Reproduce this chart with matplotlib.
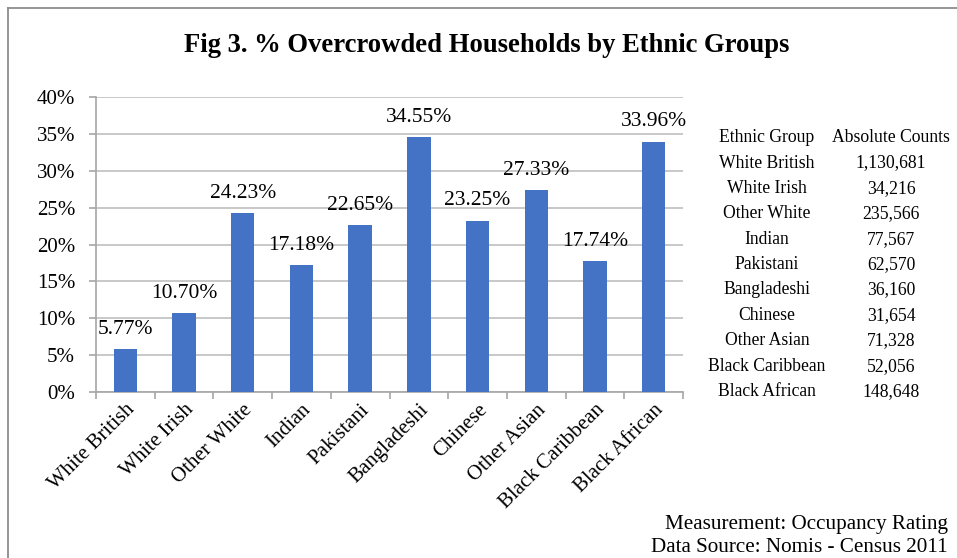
import matplotlib
matplotlib.use("Agg")
import matplotlib.pyplot as plt
from matplotlib.lines import Line2D
from matplotlib.ticker import PercentFormatter

plt.rcParams['font.family'] = ['Liberation Serif', 'DejaVu Serif']

groups = ["White British", "White Irish", "Other White", "Indian", "Pakistani",
          "Bangladeshi", "Chinese", "Other Asian", "Black Caribbean", "Black African"]
pct_overcrowded = [5.77, 10.70, 24.23, 17.18, 22.65, 34.55, 23.25, 27.33, 17.74, 33.96]
absolute_counts = ["1,130,681", "34,216", "235,566", "77,567", "62,570",
                   "36,160", "31,654", "71,328", "52,056", "148,648"]
y_ticks = [0, 5, 10, 15, 20, 25, 30, 35, 40]

W, H = 957, 558
fig = plt.figure(figsize=(W / 100, H / 100), dpi=100)

# outer frame (top and left edges visible)
frame_kw = dict(color="#8c8c8c", lw=1.3, transform=fig.transFigure)
fig.add_artist(Line2D([8 / W, 1.0], [1 - 8 / H, 1 - 8 / H], **frame_kw))
fig.add_artist(Line2D([8 / W, 8 / W], [1 - 8 / H, 0.0], **frame_kw))

fig.text(487 / W, 1 - 46 / H, "Fig 3. % Overcrowded Households by Ethnic Groups",
         ha="center", va="center", fontsize=19.2, fontweight="bold")

left, right, top, bottom = 96, 683, 97, 392
ax = fig.add_axes([left / W, 1 - bottom / H, (right - left) / W, (bottom - top) / H])

x = list(range(len(groups)))
ax.bar(x, pct_overcrowded, width=0.4, color="#4472C4", zorder=3)
for xi, v in zip(x, pct_overcrowded):
    ax.annotate(f"{v:.2f}%", (xi, v), xytext=(0, 11), textcoords="offset points",
                ha="center", va="baseline", fontsize=15.5)

ax.set_xlim(-0.5, len(groups) - 0.5)
ax.set_ylim(0, 40)
ax.set_yticks(y_ticks)
ax.yaxis.set_major_formatter(PercentFormatter(decimals=0))
ax.grid(axis="y", color="#bfbfbf", lw=1.2, zorder=0)

ax.set_xticks(x)
ax.set_xticklabels(groups, rotation=45, ha="right", va="top", rotation_mode="anchor",
                   fontsize=15)
ax.set_xticks([i - 0.5 for i in range(len(groups) + 1)], minor=True)
ax.tick_params(axis="x", which="major", length=0, pad=6)
ax.tick_params(axis="x", which="minor", length=5, color="#a6a6a6", width=1.2)
ax.tick_params(axis="y", length=5, color="#a6a6a6", width=1.2, labelsize=15, pad=10)

for s in ("top", "right"):
    ax.spines[s].set_visible(False)
for s in ("left", "bottom"):
    ax.spines[s].set_color("#a6a6a6")
    ax.spines[s].set_linewidth(1.2)

# table of absolute counts
col1, col2 = 767, 891
fig.text(col1 / W, 1 - 137 / H, "Ethnic Group", ha="center", va="center", fontsize=12.7)
fig.text(col2 / W, 1 - 137 / H, "Absolute Counts", ha="center", va="center", fontsize=12.7)
for i, (g, c) in enumerate(zip(groups, absolute_counts)):
    yy = 163 + i * 25.4
    fig.text(col1 / W, 1 - yy / H, g, ha="center", va="center", fontsize=12.7)
    fig.text(col2 / W, 1 - yy / H, c, ha="center", va="center", fontsize=12.7)

fig.text(948 / W, 1 - 524 / H, "Measurement: Occupancy Rating", ha="right", va="center",
         fontsize=15.2)
fig.text(948 / W, 1 - 548 / H, "Data Source: Nomis - Census 2011", ha="right", va="center",
         fontsize=15.2)

fig.savefig("out.png", dpi=100)
